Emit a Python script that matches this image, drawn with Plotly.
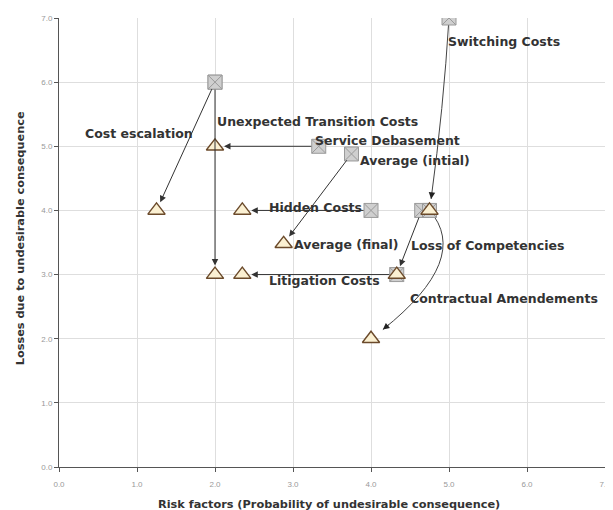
import plotly.graph_objects as go

risks = ["Cost escalation", "Unexpected Transition Costs", "Service Debasement", "Average",
         "Hidden Costs", "Switching Costs", "Loss of Competencies", "Litigation Costs",
         "Contractual Amendements"]
init_x = [2.0, 3.33, 2.0, 3.75, 4.0, 5.0, 4.65, 4.33, 4.75]
init_y = [6.0, 5.0, 6.0, 4.88, 4.0, 7.0, 4.0, 3.0, 4.0]
final_x = [1.25, 2.0, 2.0, 2.88, 2.35, 4.75, 4.33, 2.35, 4.0]
final_y = [4.0, 5.0, 3.0, 3.48, 4.0, 4.0, 3.0, 3.0, 2.0]
curved = [False, False, False, False, False, True, False, False, True]
# curve bend (control point offset, style only)
bend = [None, None, None, None, None, (0.05, 0.0), None, None, (0.95, 0.2)]

label_texts = ["Cost escalation", "Unexpected Transition Costs", "Service Debasement",
               "Average (intial)", "Average (final)", "Hidden Costs", "Switching Costs",
               "Loss of Competencies", "Litigation Costs", "Contractual Amendements"]
label_x = [0.31, 2.0, 3.26, 3.83, 2.99, 2.67, 4.96, 4.49, 2.67, 4.47]
label_y = [5.2, 5.39, 5.09, 4.78, 3.47, 4.05, 6.64, 3.45, 2.91, 2.63]

fig = go.Figure()

fig.add_trace(go.Scatter(
    x=init_x, y=init_y, mode="markers", name="Initial",
    marker=dict(symbol="square-x", size=14, color="#cfcfcf",
                line=dict(color="#9a9a9a", width=1)),
    hoverinfo="text", text=risks))
fig.add_trace(go.Scatter(
    x=final_x, y=final_y, mode="markers", name="Final",
    marker=dict(symbol="triangle-up", size=15, color="#fbf0d2",
                line=dict(color="#6b4a2b", width=1.4)),
    hoverinfo="text", text=risks))

shapes = []
annotations = []
for i in range(len(risks)):
    x0, y0, x1, y1 = init_x[i], init_y[i], final_x[i], final_y[i]
    if curved[i]:
        cx, cy = (x0 + x1) / 2 + bend[i][0], (y0 + y1) / 2 + bend[i][1]
        t = 0.94
        ex = (1 - t) ** 2 * x0 + 2 * (1 - t) * t * cx + t ** 2 * x1
        ey = (1 - t) ** 2 * y0 + 2 * (1 - t) * t * cy + t ** 2 * y1
        t2 = 0.90
        bx = (1 - t2) ** 2 * x0 + 2 * (1 - t2) * t2 * cx + t2 ** 2 * x1
        by = (1 - t2) ** 2 * y0 + 2 * (1 - t2) * t2 * cy + t2 ** 2 * y1
        qx = (1 - t) * x0 + t * cx
        qy = (1 - t) * y0 + t * cy
        shapes.append(dict(type="path", xref="x", yref="y", layer="between",
                           path=f"M {x0},{y0} Q {qx},{qy} {ex},{ey}",
                           line=dict(color="#444", width=1)))
        annotations.append(dict(x=ex, y=ey, ax=bx, ay=by, xref="x", yref="y",
                                axref="x", ayref="y", text="", showarrow=True,
                                arrowhead=2, arrowsize=1.3, arrowwidth=1,
                                arrowcolor="#222", standoff=0, startstandoff=0))
    else:
        annotations.append(dict(x=x1, y=y1, ax=x0, ay=y0, xref="x", yref="y",
                                axref="x", ayref="y", text="", showarrow=True,
                                arrowhead=2, arrowsize=1.3, arrowwidth=1,
                                arrowcolor="#333", standoff=9, startstandoff=6))

for t, lx, ly in zip(label_texts, label_x, label_y):
    annotations.append(dict(x=lx, y=ly, xref="x", yref="y", text=t, showarrow=False,
                            xanchor="left", yanchor="middle",
                            font=dict(family="DejaVu Sans", size=12.5, color="#333",
                                      weight="bold")))

annotations.append(dict(x=0.494, y=-0.083, xref="paper", yref="paper",
                        text="Risk factors (Probability of undesirable consequence)",
                        showarrow=False, xanchor="center", yanchor="middle",
                        font=dict(family="DejaVu Sans", size=11.3, color="#333", weight="bold")))
annotations.append(dict(x=-0.071, y=0.51, xref="paper", yref="paper",
                        text="Losses due to undesirable consequence", textangle=-90,
                        showarrow=False, xanchor="center", yanchor="middle",
                        font=dict(family="DejaVu Sans", size=11.3, color="#333", weight="bold")))

axis_common = dict(range=[0, 7], dtick=1, tickformat=".1f", showgrid=True,
                   gridcolor="#dedede", gridwidth=1, zeroline=False,
                   showline=True, linecolor="#555", linewidth=1,
                   ticks="outside", ticklen=4, tickcolor="#555", automargin=False,
                   tickfont=dict(family="Liberation Sans", size=8, color="#999"))

# the page body adds an 8px margin, so the figure is sized to fit the window
fig.update_layout(
    width=605, height=502,
    margin=dict(l=51, r=8, t=10, b=43),
    paper_bgcolor="white", plot_bgcolor="white",
    showlegend=False,
    xaxis=dict(**axis_common, ticklabelstandoff=5),
    yaxis=dict(**axis_common),
    shapes=shapes, annotations=annotations,
)

fig.write_html("out.html")
